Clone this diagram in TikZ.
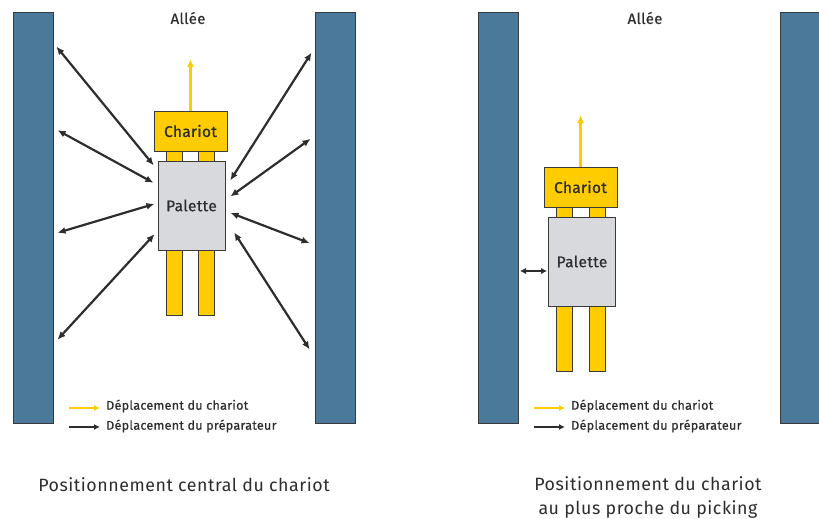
\documentclass[tikz,border=0pt]{standalone}
\usepackage{fontspec}
\setmainfont{Fira Sans}
\newfontfamily\labelfont{Fira Sans}[FakeBold=0.6, LetterSpace=2]
\newfontfamily\capfont{Fira Sans}[LetterSpace=3]
\usepackage{xcolor}
\usetikzlibrary{arrows.meta}

\definecolor{rackblue}{RGB}{74,121,153}
\definecolor{edge}{RGB}{58,58,60}
\definecolor{cartyellow}{RGB}{255,204,0}
\definecolor{palgray}{RGB}{216,217,220}
\definecolor{ink}{RGB}{45,45,48}

\begin{document}
\begin{tikzpicture}[
  x=1pt, y=-1pt,
  rack/.style   ={rectangle, draw=edge, line width=1pt, fill=rackblue,
                  minimum width=40pt, minimum height=410pt, inner sep=0pt},
  cart/.style   ={rectangle, draw=edge, line width=1pt, fill=cartyellow,
                  minimum width=73pt, minimum height=40pt, inner sep=0pt,
                  font=\labelfont\fontsize{15.5}{17}\selectfont, text=ink},
  fork/.style   ={rectangle, draw=edge, line width=0.8pt, fill=cartyellow,
                  minimum width=16pt, minimum height=164pt, inner sep=0pt},
  pallet/.style ={rectangle, draw=edge, line width=1pt, fill=palgray,
                  minimum width=67pt, minimum height=89pt, inner sep=0pt,
                  font=\labelfont\fontsize{15.5}{17}\selectfont, text=ink},
  aisle/.style  ={font=\labelfont\fontsize{15}{17}\selectfont, text=ink},
  legend/.style ={anchor=west, inner sep=0pt, font=\labelfont\fontsize{12.6}{14}\selectfont, text=ink},
  caption/.style={align=center, font=\capfont\fontsize{17.8}{24}\selectfont, text=ink},
  move/.style   ={-{Latex[length=8pt,width=7pt]}, line width=2.2pt, cartyellow},
  pick/.style   ={{Latex[length=8pt,width=7pt]}-{Latex[length=8pt,width=7pt]}, line width=2.2pt, ink},
  key/.style    ={-{Latex[length=6pt,width=6pt]}, line width=2.2pt}
]
\useasboundingbox (0,0) rectangle (819,519);
% ---- Central positioning -----------------------------------------------------
\node[rack] (rackA) at (33,218) {};
\node[rack] (rackB) at (335,218) {};
\node[aisle] (aisleA) at (188,18) {Allée};
\node[fork] (forkA1) at (174,233) {};
\node[fork] (forkA2) at (206.5,233) {};
\node[cart]   (chariotA) at (190.5,131) {Chariot};
\node[pallet] (palA)     at (191.5,205.5) {Palette};
\coordinate (headA) at (190.5,59);
\draw[move] (chariotA.north) -- (headA);
\foreach \ya/\yb/\sa/\sb in {43/170/4.7/6, 128/185/4.6/4.6, 234/203/4.2/3.2, 344/231/5.9/4.4}
  \draw[pick, shorten <=\sa pt, shorten >=\sb pt] (rackA.east |- 0,\ya) -- (palA.west |- 0,\yb);
\foreach \ya/\yb/\sa/\sb in {48/188/5.5/9, 136/200/4.9/6, 245/211/5.3/5.4, 357/219/9/16}
  \draw[pick, shorten <=\sa pt, shorten >=\sb pt] (rackB.west |- 0,\ya) -- (palA.east |- 0,\yb);
% ---- Closest positioning -----------------------------------------------------
\node[rack] (rackC) at (498,218) {};
\node[rack] (rackD) at (800,218) {};
\node[aisle] (aisleB) at (645,18) {Allée};
\node[fork] (forkB1) at (564.5,289) {};
\node[fork] (forkB2) at (597.5,289) {};
\node[cart]   (chariotB) at (580.5,187) {Chariot};
\node[pallet] (palB)     at (582,261.5) {Palette};
\coordinate (headB) at (580.5,115);
\draw[move] (chariotB.north) -- (headB);
\draw[{Latex[length=6pt,width=6.5pt]}-{Latex[length=6pt,width=6.5pt]}, line width=2.2pt, ink,
      shorten <=1.5pt, shorten >=1pt] (rackC.east |- 0,271) -- (palB.west |- 0,271);
% ---- Legends -----------------------------------------------------------------
\node[legend] (legA1) at (106,406) {Déplacement du chariot};
\node[legend] (legA2) at (106,426) {Déplacement du préparateur};
\coordinate (keyA1) at (69,408);
\coordinate (keyA2) at (69,427);
\draw[key, cartyellow] (keyA1) -- (keyA1 -| legA1.west) [shorten >=6pt];
\draw[key, ink]        (keyA2) -- (keyA2 -| legA2.west) [shorten >=6pt];
\node[legend] (legB1) at (571,406) {Déplacement du chariot};
\node[legend] (legB2) at (571,426) {Déplacement du préparateur};
\coordinate (keyB1) at (534,408);
\coordinate (keyB2) at (534,427);
\draw[key, cartyellow] (keyB1) -- (keyB1 -| legB1.west) [shorten >=6pt];
\draw[key, ink]        (keyB2) -- (keyB2 -| legB2.west) [shorten >=6pt];
% ---- Captions ----------------------------------------------------------------
\node[caption] (capA) at (184,485) {Positionnement central du chariot};
\node[caption] (capB) at (648,497) {Positionnement du chariot\\au plus proche du picking};
\end{tikzpicture}
\end{document}
